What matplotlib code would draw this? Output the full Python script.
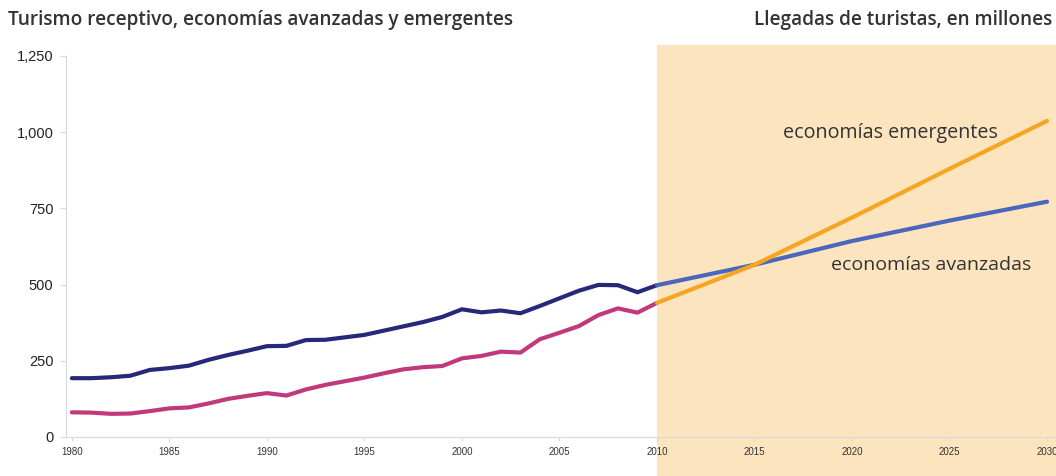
import matplotlib
matplotlib.use("Agg")
import matplotlib.pyplot as plt
from matplotlib.patches import Rectangle
import matplotlib.transforms as mtransforms
from matplotlib.ticker import FuncFormatter

# ---------------------
# Data (millions of international tourist arrivals)
# ---------------------
years_hist = list(range(1980, 2011))
advanced_hist = [193, 193, 196, 201, 220, 226, 234, 253, 269, 283,
                 298, 299, 318, 319, 327, 335, 349, 363, 377, 394,
                 419, 409, 415, 406, 430, 455, 480, 499, 498, 475,
                 498]
emerging_hist = [81, 80, 76, 77, 85, 94, 97, 110, 125, 135,
                 144, 136, 156, 171, 183, 195, 209, 222, 229, 233,
                 258, 266, 280, 277, 321, 342, 364, 400, 422, 408,
                 440]

years_proj = [2010, 2015, 2020, 2025, 2030]
advanced_proj = [498, 565, 643, 710, 772]
emerging_proj = [440, 565, 720, 880, 1037]

year_ticks = [1980, 1985, 1990, 1995, 2000, 2005, 2010, 2015, 2020, 2025, 2030]
value_ticks = [0, 250, 500, 750, 1000, 1250]

# ---------------------
# Style
# ---------------------
NAVY = "#27287a"
PINK = "#c03a7b"
ORANGE = "#f4a623"
BLUE = "#4a67bd"
SHADE = "#fce4bf"
AXIS_GRAY = "#d9d9d9"
TEXT_DARK = "#333333"
HEAD_FONT = ["Open Sans", "DejaVu Sans"]

plt.rcParams.update({
    "font.family": ["Liberation Sans", "DejaVu Sans"],
})

fig = plt.figure(figsize=(10.56, 4.76), dpi=100)
ax = fig.add_axes([66 / 1056, 1 - 437 / 476, 990 / 1056, 381 / 476])
ax.patch.set_alpha(0)

ax.set_xlim(1979.7, 2030.46)
ax.set_ylim(0, 1250)

# shaded forecast period, running off the bottom and right of the plot
trans = mtransforms.blended_transform_factory(ax.transData, ax.transAxes)
ax.add_patch(Rectangle((2010, -0.105), 21, 1.135, transform=trans,
                       facecolor=SHADE, edgecolor="none", zorder=0,
                       clip_on=False))

lw = 3.0
ax.plot(years_hist, advanced_hist, color=NAVY, lw=lw, zorder=3,
        solid_capstyle="round", solid_joinstyle="round", clip_on=False)
ax.plot(years_hist, emerging_hist, color=PINK, lw=lw, zorder=3,
        solid_capstyle="round", solid_joinstyle="round", clip_on=False)
ax.plot(years_proj, advanced_proj, color=BLUE, lw=lw, zorder=3,
        solid_capstyle="round", clip_on=False)
ax.plot(years_proj, emerging_proj, color=ORANGE, lw=lw, zorder=4,
        solid_capstyle="round", clip_on=False)

# axes
for side in ["top", "right"]:
    ax.spines[side].set_visible(False)
ax.spines["left"].set_color(AXIS_GRAY)
ax.spines["bottom"].set_color(AXIS_GRAY)
ax.spines["left"].set_linewidth(0.8)
ax.spines["bottom"].set_linewidth(0.8)

ax.set_yticks(value_ticks)
ax.yaxis.set_major_formatter(FuncFormatter(lambda v, _: f"{int(v):,}"))
ax.set_xticks(year_ticks)
ax.tick_params(axis="y", length=4, color=AXIS_GRAY, labelsize=10.5,
               labelcolor="#222222", pad=5)
ax.tick_params(axis="x", length=3, color=AXIS_GRAY, labelsize=7,
               labelcolor="#333333", pad=4)
for lbl in ax.get_xticklabels():
    lbl.set_fontfamily(["Liberation Sans Narrow", "Liberation Sans"])

# series labels inside the forecast area
ax.text(2021.95, 997, "economías emergentes", fontsize=14.2,
        family=HEAD_FONT, color=TEXT_DARK, ha="center", va="center", zorder=5)
ax.text(2024.05, 564, "economías avanzadas", fontsize=14.0,
        family=HEAD_FONT, color=TEXT_DARK, ha="center", va="center", zorder=5)

# headings
fig.text(8 / 1056, 1 - 20 / 476, "Turismo receptivo, economías avanzadas y emergentes",
         fontsize=13.7, family=HEAD_FONT, fontweight="semibold",
         color=TEXT_DARK, ha="left", va="center")
fig.text(1052 / 1056, 1 - 20 / 476, "Llegadas de turistas, en millones",
         fontsize=13.7, family=HEAD_FONT, fontweight="semibold",
         color=TEXT_DARK, ha="right", va="center")

fig.savefig("out.png", dpi=100, facecolor="white")
